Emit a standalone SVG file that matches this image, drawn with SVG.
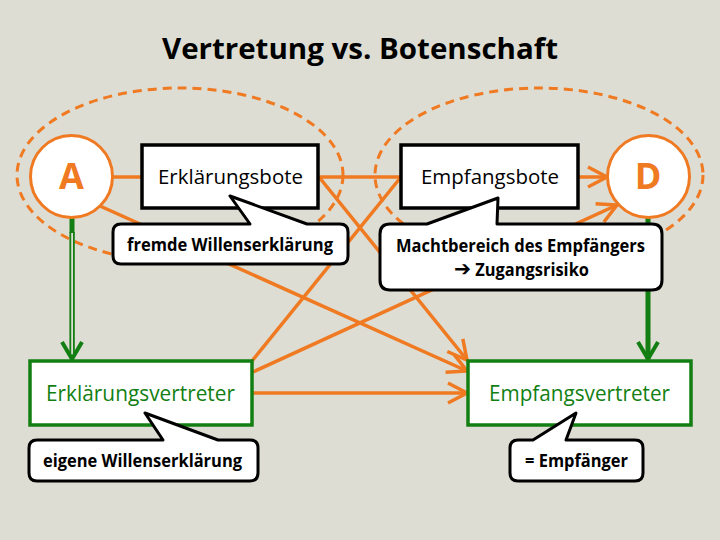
<svg xmlns="http://www.w3.org/2000/svg" width="720" height="540" viewBox="0 0 720 540">
<defs>
<style>
.bg{fill:#DEDDD3}
.con{stroke:#EF7A22;stroke-width:3.5;fill:none;stroke-linecap:butt}
.dash{stroke:#EF7A22;stroke-width:3;fill:none;stroke-dasharray:9 6}
.circ{fill:#fff;stroke:#EF7A22;stroke-width:3}
.box{fill:#fff;stroke:#000;stroke-width:3.5}
.gbox{fill:#fff;stroke:#137F13;stroke-width:3.5}
.call{fill:#fff;stroke:#000;stroke-width:3;stroke-linejoin:round}
.t{font-family:"Open Sans","Liberation Sans",sans-serif;text-anchor:middle}
.title{font-size:29px;font-weight:bold;fill:#000}
.lbl{font-size:20px;fill:#000}
.glbl{font-size:21px;fill:#137F13}
.cl{font-size:17px;font-weight:bold;fill:#000}
.big{font-size:36px;font-weight:bold;fill:#EF7A22}
.arr{font-family:"DejaVu Sans",sans-serif;font-size:21px}
</style>
<marker id="ao" markerUnits="userSpaceOnUse" markerWidth="26" markerHeight="26" viewBox="0 0 26 26" refX="21" refY="13" orient="auto">
<path d="M2,3 L21,13 L2,23" fill="none" stroke="#EF7A22" stroke-width="3.5"/>
</marker>
<marker id="ag" markerUnits="userSpaceOnUse" markerWidth="26" markerHeight="26" viewBox="0 0 26 26" refX="20" refY="13" orient="auto">
<path d="M3,3 L20,13 L3,23" fill="none" stroke="#137F13" stroke-width="4"/>
</marker>
</defs>
<rect class="bg" x="0" y="0" width="720" height="540"/>
<text class="t title" x="360" y="59" textLength="396" lengthAdjust="spacingAndGlyphs">Vertretung vs. Botenschaft</text>

<g id="spheres">
<ellipse class="dash" cx="180" cy="175" rx="163" ry="87"/>
<ellipse class="dash" cx="539" cy="175" rx="164" ry="87"/>
</g>

<g id="connectors">
<line class="con" x1="113" y1="177" x2="142" y2="177"/>
<line class="con" x1="318" y1="177" x2="401" y2="177"/>
<line class="con" x1="578" y1="177" x2="607" y2="177" marker-end="url(#ao)"/>
<line class="con" x1="100" y1="206" x2="467" y2="371" marker-end="url(#ao)"/>
<line class="con" x1="319" y1="177" x2="467" y2="360" marker-end="url(#ao)"/>
<line class="con" x1="252" y1="361" x2="401" y2="177"/>
<line class="con" x1="253" y1="372" x2="617" y2="205" marker-end="url(#ao)"/>
<line class="con" x1="252" y1="393" x2="467" y2="393" marker-end="url(#ao)"/>
<line x1="72" y1="218" x2="72" y2="233" stroke="#137F13" stroke-width="5"/>
<line x1="70.3" y1="232" x2="70.3" y2="357" stroke="#137F13" stroke-width="1.8"/>
<line x1="73.9" y1="232" x2="73.9" y2="357" stroke="#137F13" stroke-width="1.8"/>
<line x1="72" y1="340" x2="72" y2="359" stroke="none" marker-end="url(#ag)"/>
<line x1="648" y1="217" x2="648" y2="359" stroke="#137F13" stroke-width="5" marker-end="url(#ag)"/>
</g>

<g id="nodeA">
<circle class="circ" cx="71.5" cy="176.5" r="41"/>
<text class="t big" x="71.5" y="189">A</text>
</g>
<g id="nodeD">
<circle class="circ" cx="648.5" cy="176.5" r="41"/>
<text class="t big" x="648" y="189">D</text>
</g>
<g id="erklaerungsbote">
<rect class="box" x="142" y="145" width="176" height="63"/>
<text class="t lbl" x="230.5" y="184" textLength="145" lengthAdjust="spacingAndGlyphs">Erklärungsbote</text>
</g>
<g id="empfangsbote">
<rect class="box" x="401" y="145" width="177" height="63"/>
<text class="t lbl" x="490" y="184" textLength="138" lengthAdjust="spacingAndGlyphs">Empfangsbote</text>
</g>
<g id="erklaerungsvertreter">
<rect class="gbox" x="30" y="361" width="222" height="64"/>
<text class="t glbl" x="140.5" y="401" textLength="189" lengthAdjust="spacingAndGlyphs">Erklärungsvertreter</text>
</g>
<g id="empfangsvertreter">
<rect class="gbox" x="468" y="361" width="223" height="64"/>
<text class="t glbl" x="579.5" y="401" textLength="181" lengthAdjust="spacingAndGlyphs">Empfangsvertreter</text>
</g>

<g id="callout-fremde">
<path class="call" d="M121,224 L250,224 L230,196 L307,224 L340,224 Q348,224 348,232 L348,256 Q348,264 340,264 L121,264 Q113,264 113,256 L113,232 Q113,224 121,224 Z"/>
<text class="t cl" x="230" y="251" textLength="206" lengthAdjust="spacingAndGlyphs">fremde Willenserklärung</text>
</g>
<g id="callout-machtbereich">
<path class="call" d="M390,224 L427,224 L498,198 L497,224 L652,224 Q662,224 662,234 L662,280 Q662,290 652,290 L390,290 Q380,290 380,280 L380,234 Q380,224 390,224 Z"/>
<text class="t cl" x="520.5" y="252" textLength="249" lengthAdjust="spacingAndGlyphs">Machtbereich des Empfängers</text>
<text class="t cl" x="521.5" y="276" textLength="135" lengthAdjust="spacingAndGlyphs"><tspan class="arr">➔</tspan> Zugangsrisiko</text>
</g>
<g id="callout-eigene">
<path class="call" d="M37,440 L163,440 L145,413 L218,440 L250,440 Q258,440 258,448 L258,473 Q258,481 250,481 L37,481 Q29,481 29,473 L29,448 Q29,440 37,440 Z"/>
<text class="t cl" x="142.5" y="467" textLength="199" lengthAdjust="spacingAndGlyphs">eigene Willenserklärung</text>
</g>
<g id="callout-empfaenger">
<path class="call" d="M518,440 L533,440 L576,413 L566,440 L635,440 Q643,440 643,448 L643,473 Q643,481 635,481 L518,481 Q510,481 510,473 L510,448 Q510,440 518,440 Z"/>
<text class="t cl" x="576.5" y="467" textLength="103" lengthAdjust="spacingAndGlyphs">= Empfänger</text>
</g>
</svg>
